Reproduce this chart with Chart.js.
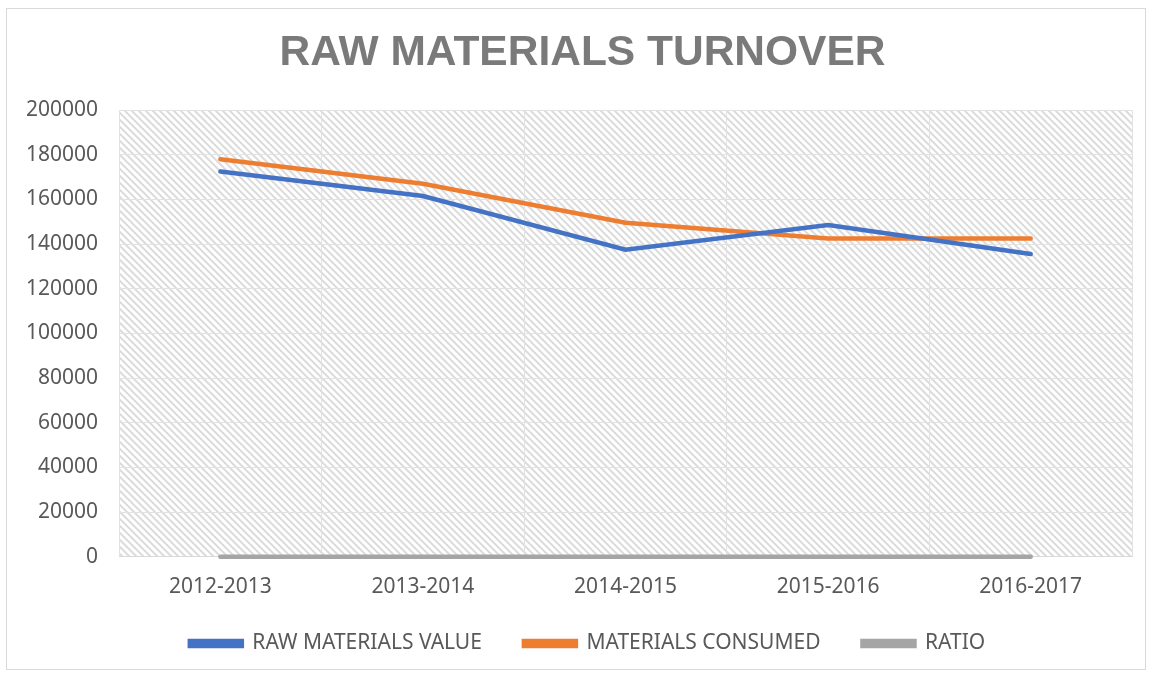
<!DOCTYPE html>
<html>
<head>
<meta charset="utf-8">
<script src="https://cdn.jsdelivr.net/npm/chart.js@4/dist/chart.umd.min.js"></script>
<style>
  html, body { margin: 0; padding: 0; background: #fff; }
  #wrap { width: 1152px; height: 675px; position: relative; }
</style>
</head>
<body>
<div id="wrap"><canvas id="c" width="1152" height="675"></canvas></div>
<script>
const annees = ['2012-2013', '2013-2014', '2014-2015', '2015-2016', '2016-2017'];
const valeurMatieres = [172500, 161500, 137500, 148500, 135500];
const matieresConsommees = [178000, 167000, 149500, 142500, 142500];
const ratio = [1.03, 1.03, 0.92, 1.04, 0.95];

// motif hachuré du fond
function hachures() {
    const p = document.createElement('canvas');
    p.width = 7; p.height = 7;
    const g = p.getContext('2d');
    g.fillStyle = '#ffffff';
    g.fillRect(0, 0, 7, 7);
    g.strokeStyle = '#dcdcdc';
    g.lineWidth = 2;
    g.beginPath();
    g.moveTo(-2, -2); g.lineTo(9, 9);
    g.moveTo(-2, 5); g.lineTo(2, 9);
    g.moveTo(5, -2); g.lineTo(9, 2);
    g.stroke();
    return p;
}

const fondPlugin = {
    id: 'fond',
    beforeDraw(chart) {
        const ctx = chart.ctx;
        const a = chart.chartArea;
        ctx.save();
        ctx.fillStyle = '#fff';
        ctx.fillRect(0, 0, chart.width, chart.height);
        ctx.strokeStyle = '#d9d9d9';
        ctx.lineWidth = 1;
        ctx.strokeRect(6.5, 8.5, chart.width - 13, chart.height - 14);
        ctx.fillStyle = ctx.createPattern(hachures(), 'repeat');
        ctx.fillRect(a.left, a.top, a.right - a.left, a.bottom - a.top);
        ctx.restore();
    }
};

// recentrer le titre et remonter la légende comme dans Excel
const decalagePlugin = {
    id: 'decalage',
    afterLayout(chart) {
        const t = chart.titleBlock;
        t.left += 14; t.right += 14;
        const l = chart.legend;
        l.left += 19; l.right += 19;
        l.top -= 27;
        l.bottom = chart.height;
        l.height = l.bottom - l.top;
    }
};

new Chart(document.getElementById('c'), {
    type: 'line',
    data: {
        labels: annees,
        datasets: [{
            label: 'RAW MATERIALS VALUE',
            data: valeurMatieres,
            borderColor: '#4472C4',
            backgroundColor: '#4472C4',
            borderWidth: 4.5,
            borderCapStyle: 'round',
            pointRadius: 0,
            tension: 0
        }, {
            label: 'MATERIALS CONSUMED',
            data: matieresConsommees,
            borderColor: '#ED7D31',
            backgroundColor: '#ED7D31',
            borderWidth: 4.5,
            borderCapStyle: 'round',
            pointRadius: 0,
            tension: 0
        }, {
            label: 'RATIO',
            data: ratio,
            borderColor: '#A5A5A5',
            backgroundColor: '#A5A5A5',
            borderWidth: 4.5,
            borderCapStyle: 'round',
            pointRadius: 0,
            tension: 0,
            clip: false
        }]
    },
    options: {
        responsive: false,
        animation: false,
        layout: { padding: { left: 5, right: 20, top: 10, bottom: 0 } },
        plugins: {
            title: {
                display: true,
                text: 'RAW MATERIALS TURNOVER',
                color: '#7a7a7a',
                font: { family: 'Liberation Sans', size: 42.5, weight: 'bold' },
                padding: { top: 18, bottom: 31 }
            },
            legend: {
                position: 'bottom',
                maxHeight: 57,
                labels: {
                    color: '#595959',
                    font: { family: 'Noto Sans', size: 21 },
                    boxWidth: 52,
                    boxHeight: 5,
                    padding: 42
                }
            },
            tooltip: { enabled: false }
        },
        scales: {
            x: {
                offset: true,
                grid: { color: '#e2e2e2', offset: true, drawTicks: false },
                border: { color: '#d9d9d9' },
                ticks: { color: '#595959', font: { family: 'Noto Sans', size: 21 }, padding: 18 }
            },
            y: {
                min: 0,
                max: 200000,
                ticks: {
                    stepSize: 20000,
                    color: '#595959',
                    font: { family: 'Noto Sans', size: 21 },
                    padding: 21,
                    callback: v => String(v)
                },
                grid: { color: '#e2e2e2', drawTicks: false },
                border: { display: false }
            }
        }
    },
    plugins: [fondPlugin, decalagePlugin]
});
</script>
</body>
</html>
